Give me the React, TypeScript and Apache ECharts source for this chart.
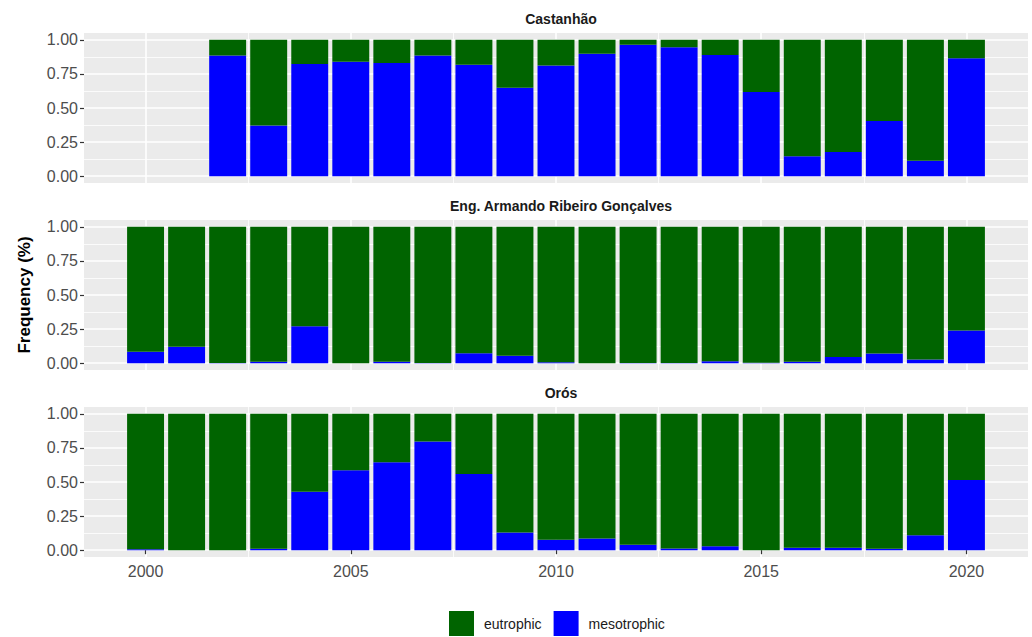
import React, { useEffect, useRef } from "react";
import * as echarts from "echarts";

const years = [2000, 2001, 2002, 2003, 2004, 2005, 2006, 2007, 2008, 2009, 2010, 2011, 2012, 2013, 2014, 2015, 2016, 2017, 2018, 2019, 2020];
// empty padding slots at each end of the x range (ggplot-style expansion)
const padBefore = 1999;
const padAfter = 2021;

const panelNames = ["Castanhão", "Eng. Armando Ribeiro Gonçalves", "Orós"];

const castanhaoMeso = [null, null, 0.885, 0.371, 0.823, 0.84, 0.83, 0.885, 0.818, 0.649, 0.812, 0.897, 0.963, 0.946, 0.889, 0.617, 0.147, 0.177, 0.405, 0.113, 0.865];
const castanhaoEutro = [null, null, 0.115, 0.629, 0.177, 0.16, 0.17, 0.115, 0.182, 0.351, 0.188, 0.103, 0.037, 0.054, 0.111, 0.383, 0.853, 0.823, 0.595, 0.887, 0.135];

const armandoMeso = [0.083, 0.12, 0.002, 0.01, 0.271, 0, 0.01, 0.001, 0.073, 0.054, 0.007, 0, 0.002, 0.002, 0.015, 0.003, 0.01, 0.046, 0.071, 0.027, 0.24];
const armandoEutro = [0.917, 0.88, 0.998, 0.99, 0.729, 1, 0.99, 0.999, 0.927, 0.946, 0.993, 1, 0.998, 0.998, 0.985, 0.997, 0.99, 0.954, 0.929, 0.973, 0.76];

const orosMeso = [0.007, 0, 0, 0.01, 0.429, 0.586, 0.645, 0.797, 0.559, 0.13, 0.076, 0.086, 0.039, 0.012, 0.029, 0, 0.017, 0.017, 0.01, 0.11, 0.515];
const orosEutro = [0.993, 1, 1, 0.99, 0.571, 0.414, 0.355, 0.203, 0.441, 0.87, 0.924, 0.914, 0.961, 0.988, 0.971, 1, 0.983, 0.983, 0.99, 0.89, 0.485];

const xMajor = [2000, 2005, 2010, 2015, 2020];
const xMinor = [2002.5, 2007.5, 2012.5, 2017.5];
const yMajor = [0, 0.25, 0.5, 0.75, 1];
const yMinor = [0.125, 0.375, 0.625, 0.875];

const mesoSets = [castanhaoMeso, armandoMeso, orosMeso];
const eutroSets = [castanhaoEutro, armandoEutro, orosEutro];

const FONT = "Liberation Sans, Arial, Helvetica, sans-serif";
const GREEN = "#006400";
const BLUE = "#0000FF";

export default function App() {
  const ref = useRef<HTMLDivElement>(null);

  useEffect(() => {
    if (!ref.current) return;
    const chart = echarts.init(ref.current, null, { renderer: "svg" });

    const gridLeft = 84;
    const gridRight = 4;
    const gridWidth = 1032 - gridLeft - gridRight;
    const xMin = padBefore - 0.5;
    const xMax = padAfter + 0.5;
    const tops = [33, 220, 407];
    const gh = 150;
    const categories = [String(padBefore), ...years.map(String), String(padAfter)];

    const grids: any[] = [];
    const xAxes: any[] = [];
    const yAxes: any[] = [];
    const series: any[] = [];
    const titles: any[] = [];

    tops.forEach((top, i) => {
      grids.push({
        left: gridLeft,
        right: gridRight,
        top,
        height: gh,
        show: true,
        backgroundColor: "#EBEBEB",
        borderWidth: 0,
      });
      const isBottom = i === tops.length - 1;
      // major x axis (value) - labels, ticks, major grid
      xAxes.push({
        type: "value",
        gridIndex: i,
        min: xMin,
        max: xMax,
        position: "bottom",
        axisLine: { show: false },
        axisTick: {
          show: isBottom,
          customValues: xMajor,
          length: 4,
          lineStyle: { color: "#333333", width: 1.2 },
        },
        axisLabel: {
          show: isBottom,
          customValues: xMajor,
          color: "#4D4D4D",
          fontSize: 16,
          fontFamily: FONT,
          margin: 6,
          formatter: (v: number) => String(v),
        },
        splitLine: { show: true, lineStyle: { color: "#FFFFFF", width: 1.6 } },
      });
      // minor x axis (value) - minor grid only
      xAxes.push({
        type: "value",
        gridIndex: i,
        min: xMin,
        max: xMax,
        position: "top",
        axisLine: { show: false },
        axisTick: { show: false, customValues: xMinor },
        axisLabel: { show: false, customValues: xMinor },
        splitLine: { show: true, lineStyle: { color: "#FFFFFF", width: 0.8 } },
      });
      // category axis for bars (hidden)
      xAxes.push({
        type: "category",
        gridIndex: i,
        data: categories,
        boundaryGap: true,
        show: false,
        axisLine: { show: false },
        axisTick: { show: false },
        axisLabel: { show: false },
        splitLine: { show: false },
      });
      yAxes.push({
        type: "value",
        gridIndex: i,
        min: -0.05,
        max: 1.05,
        position: "left",
        name: i === 1 ? "Frequency (%)" : "",
        nameLocation: "middle",
        nameGap: 51,
        nameTextStyle: { fontSize: 17, fontWeight: "bold", color: "#000000", fontFamily: FONT },
        axisLine: { show: false },
        axisTick: {
          show: true,
          customValues: yMajor,
          length: 4,
          lineStyle: { color: "#333333", width: 1.2 },
        },
        axisLabel: {
          customValues: yMajor,
          color: "#4D4D4D",
          fontSize: 16,
          fontFamily: FONT,
          margin: 6,
          formatter: (v: number) => v.toFixed(2),
        },
        splitLine: { show: true, lineStyle: { color: "#FFFFFF", width: 1.6 } },
      });
      yAxes.push({
        type: "value",
        gridIndex: i,
        min: -0.05,
        max: 1.05,
        position: "right",
        axisLine: { show: false },
        axisTick: { show: false, customValues: yMinor },
        axisLabel: { show: false, customValues: yMinor },
        splitLine: { show: true, lineStyle: { color: "#FFFFFF", width: 0.8 } },
      });

      const meso = mesoSets[i];
      const eutro = eutroSets[i];
      const mesoData: any[] = [];
      const eutroData: any[] = [];
      years.forEach((y, k) => {
        if (meso[k] !== null) mesoData.push([String(y), meso[k]]);
        if (eutro[k] !== null) eutroData.push([String(y), eutro[k]]);
      });
      series.push({
        name: "mesotrophic",
        type: "bar",
        xAxisIndex: i * 3 + 2,
        yAxisIndex: i * 2,
        stack: "s" + i,
        barWidth: "90%",
        itemStyle: { color: BLUE },
        data: mesoData,
      });
      series.push({
        name: "eutrophic",
        type: "bar",
        xAxisIndex: i * 3 + 2,
        yAxisIndex: i * 2,
        stack: "s" + i,
        barWidth: "90%",
        itemStyle: { color: GREEN },
        data: eutroData,
      });

      titles.push({
        text: panelNames[i],
        left: gridLeft + gridWidth / 2,
        textAlign: "center",
        top: top - 26,
        textStyle: { fontSize: 14, fontWeight: "bold", color: "#1A1A1A", fontFamily: FONT },
      });
    });

    chart.setOption({
      animation: false,
      backgroundColor: "#FFFFFF",
      title: titles,
      grid: grids,
      xAxis: xAxes,
      yAxis: yAxes,
      series,
      legend: {
        data: ["eutrophic", "mesotrophic"],
        left: 444,
        top: 606,
        itemWidth: 25,
        itemHeight: 25,
        itemGap: 12,
        icon: "rect",
        textStyle: { fontSize: 14, color: "#1A1A1A", fontFamily: FONT, padding: [0, 0, 0, 5] },
        selectedMode: false,
      },
    });

    return () => chart.dispose();
  }, []);

  return (
    <div
      ref={ref}
      style={{ position: "fixed", left: 0, top: 0, width: 1032, height: 637 }}
    />
  );
}
